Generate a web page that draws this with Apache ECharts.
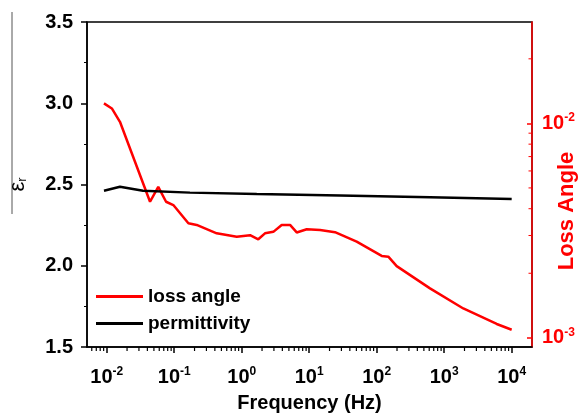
<!DOCTYPE html>
<html><head><meta charset="utf-8">
<script src="https://cdn.jsdelivr.net/npm/echarts@6/dist/echarts.min.js"></script>
<style>html,body{margin:0;padding:0;background:#fff}#c{width:583px;height:416px}</style>
</head><body><div id="c"></div>
<script>
// Data
var freqLoss = [0.0091,0.0119,0.0157,0.0438,0.058,0.0757,0.097,0.162,0.215,0.426,0.843,1.33,1.76,2.21,2.94,3.91,5.2,6.53,9.19,14.5,24.1,50.5,118.6,148.6,197.8,616,1920,5998,10000];
var lossAngle = [0.0124,0.01174,0.01017,0.00431,0.00506,0.00431,0.00416,0.00342,0.00336,0.00307,0.00296,0.00301,0.00288,0.00307,0.00312,0.00336,0.00336,0.0031,0.00321,0.00318,0.00311,0.00281,0.00241,0.00239,0.00216,0.0017,0.00137,0.00116,0.00109];
var freqPerm = [0.0091,0.0157,0.0345,0.171,1.67,28.6,616,10000];
var permittivity = [2.462,2.486,2.462,2.450,2.441,2.432,2.421,2.411];
var leftTicks = [1.5,2.0,2.5,3.0,3.5];
var seriesNames = ['loss angle','permittivity'];

var X_MIN = 0.0051, X_MAX = 20000, Y2_MIN = 0.000906, Y2_MAX = 0.0297;

function zip(a,b){return a.map(function(v,i){return [v,b[i]];});}
function logMinors(lo, hi){
  var out = [];
  for (var n = -5; n <= 5; n++) for (var k = 2; k <= 9; k++) {
    var v = k*Math.pow(10,n);
    if (v > lo && v < hi) out.push([v]);
  }
  return out;
}
function powLabel(v){
  var e = Math.log10(v);
  var r = Math.round(e);
  if (Math.abs(e-r) < 1e-6) return '{b|10}{s|' + r + '}';
  return '';
}
var FONT = '"Liberation Sans", Arial, sans-serif';
var chart = echarts.init(document.getElementById('c'));
chart.setOption({
  animation:false,
  grid:{left:87,right:51,top:22,bottom:69,show:true,borderColor:'#000',borderWidth:1.5,outerBoundsMode:'none',containLabel:false},
  legend:{
    data:seriesNames, orient:'vertical', left:91, top:282, itemWidth:47, itemHeight:3, itemGap:8,
    icon:'rect',
    textStyle:{fontFamily:FONT,fontWeight:'bold',fontSize:19,color:'#000'}
  },
  xAxis:{
    type:'log', min:X_MIN, max:X_MAX, logBase:10, splitNumber:7,
    name:'Frequency (Hz)', nameLocation:'middle', nameGap:46, nameMoveOverlap:false,
    nameTextStyle:{fontFamily:FONT,fontWeight:'bold',fontSize:20,color:'#000'},
    axisLine:{lineStyle:{color:'#000',width:1.5}},
    axisTick:{show:true,length:6,lineStyle:{color:'#000',width:1.5}},
    splitLine:{show:false},
    axisLabel:{margin:19,showMinLabel:false,showMaxLabel:false,formatter:powLabel,
      rich:{b:{fontFamily:FONT,fontWeight:'bold',fontSize:20,color:'#000'},
            s:{fontFamily:FONT,fontWeight:'bold',fontSize:12,color:'#000',padding:[0,0,11,0]}}}
  },
  yAxis:[{
    type:'value', min:1.5, max:3.5, interval:0.5, position:'left',
    name:'ε{r|r}', nameLocation:'middle', nameGap:58, nameRotate:90, nameMoveOverlap:false,
    nameTextStyle:{fontFamily:FONT,fontSize:22,color:'#000',rich:{r:{fontFamily:FONT,fontSize:13,color:'#000',padding:[10,0,0,0]}}},
    axisLine:{show:true,lineStyle:{color:'#000',width:1.5}},
    axisTick:{show:true,length:6,lineStyle:{color:'#000',width:1.5}},
    minorTick:{show:true,splitNumber:2,length:3,lineStyle:{color:'#000',width:1}},
    splitLine:{show:false},
    axisLabel:{margin:14,fontFamily:FONT,fontWeight:'bold',fontSize:20,color:'#000',
      formatter:function(v){return leftTicks.indexOf(v)>=0? v.toFixed(1):'';}}
  },{
    type:'log', min:Y2_MIN, max:Y2_MAX, logBase:10, position:'right',
    name:'Loss Angle', nameLocation:'middle', nameGap:24, nameRotate:90, nameMoveOverlap:false,
    nameTextStyle:{fontFamily:FONT,fontWeight:'bold',fontSize:22,color:'#ff0000',padding:[0,53,0,0]},
    axisLine:{show:true,lineStyle:{color:'#ff0000',width:1.5}},
    axisTick:{show:true,inside:true,length:5,lineStyle:{color:'#ff0000',width:1.5}},
    splitLine:{show:false},
    axisLabel:{margin:10,showMinLabel:false,showMaxLabel:false,formatter:powLabel,
      rich:{b:{fontFamily:FONT,fontWeight:'bold',fontSize:20,color:'#ff0000'},
            s:{fontFamily:FONT,fontWeight:'bold',fontSize:12,color:'#ff0000',padding:[0,0,11,0]}}}
  }],
  graphic:[{type:'line',shape:{x1:12,y1:12,x2:12,y2:214},style:{stroke:'#555',lineWidth:1}}],
  series:[{
    name:seriesNames[0], type:'line', yAxisIndex:1, data:zip(freqLoss,lossAngle),
    showSymbol:false, symbol:'none', color:'#ff0000', lineStyle:{color:'#ff0000',width:2.5}, z:3
  },{
    name:seriesNames[1], type:'line', yAxisIndex:0, data:zip(freqPerm,permittivity),
    showSymbol:false, symbol:'none', color:'#000', lineStyle:{color:'#000',width:2.5}, z:3
  },{
    name:'xMinor', type:'custom', yAxisIndex:0, clip:false, silent:true, z:5,
    data:logMinors(X_MIN, X_MAX).map(function(d){return [d[0], 1.5];}),
    renderItem:function(params, api){
      var p = api.coord([api.value(0), api.value(1)]);
      return {type:'line', shape:{x1:p[0],y1:p[1],x2:p[0],y2:p[1]+4}, style:{stroke:'#000',lineWidth:1.2}};
    }
  },{
    name:'yMinor', type:'custom', yAxisIndex:1, clip:false, silent:true, z:5,
    data:logMinors(Y2_MIN, Y2_MAX).map(function(d){return [X_MAX, d[0]];}),
    renderItem:function(params, api){
      var p = api.coord([api.value(0), api.value(1)]);
      return {type:'line', shape:{x1:p[0]-3.5,y1:p[1],x2:p[0],y2:p[1]}, style:{stroke:'#ff0000',lineWidth:1}};
    }
  }]
});
</script></body></html>
